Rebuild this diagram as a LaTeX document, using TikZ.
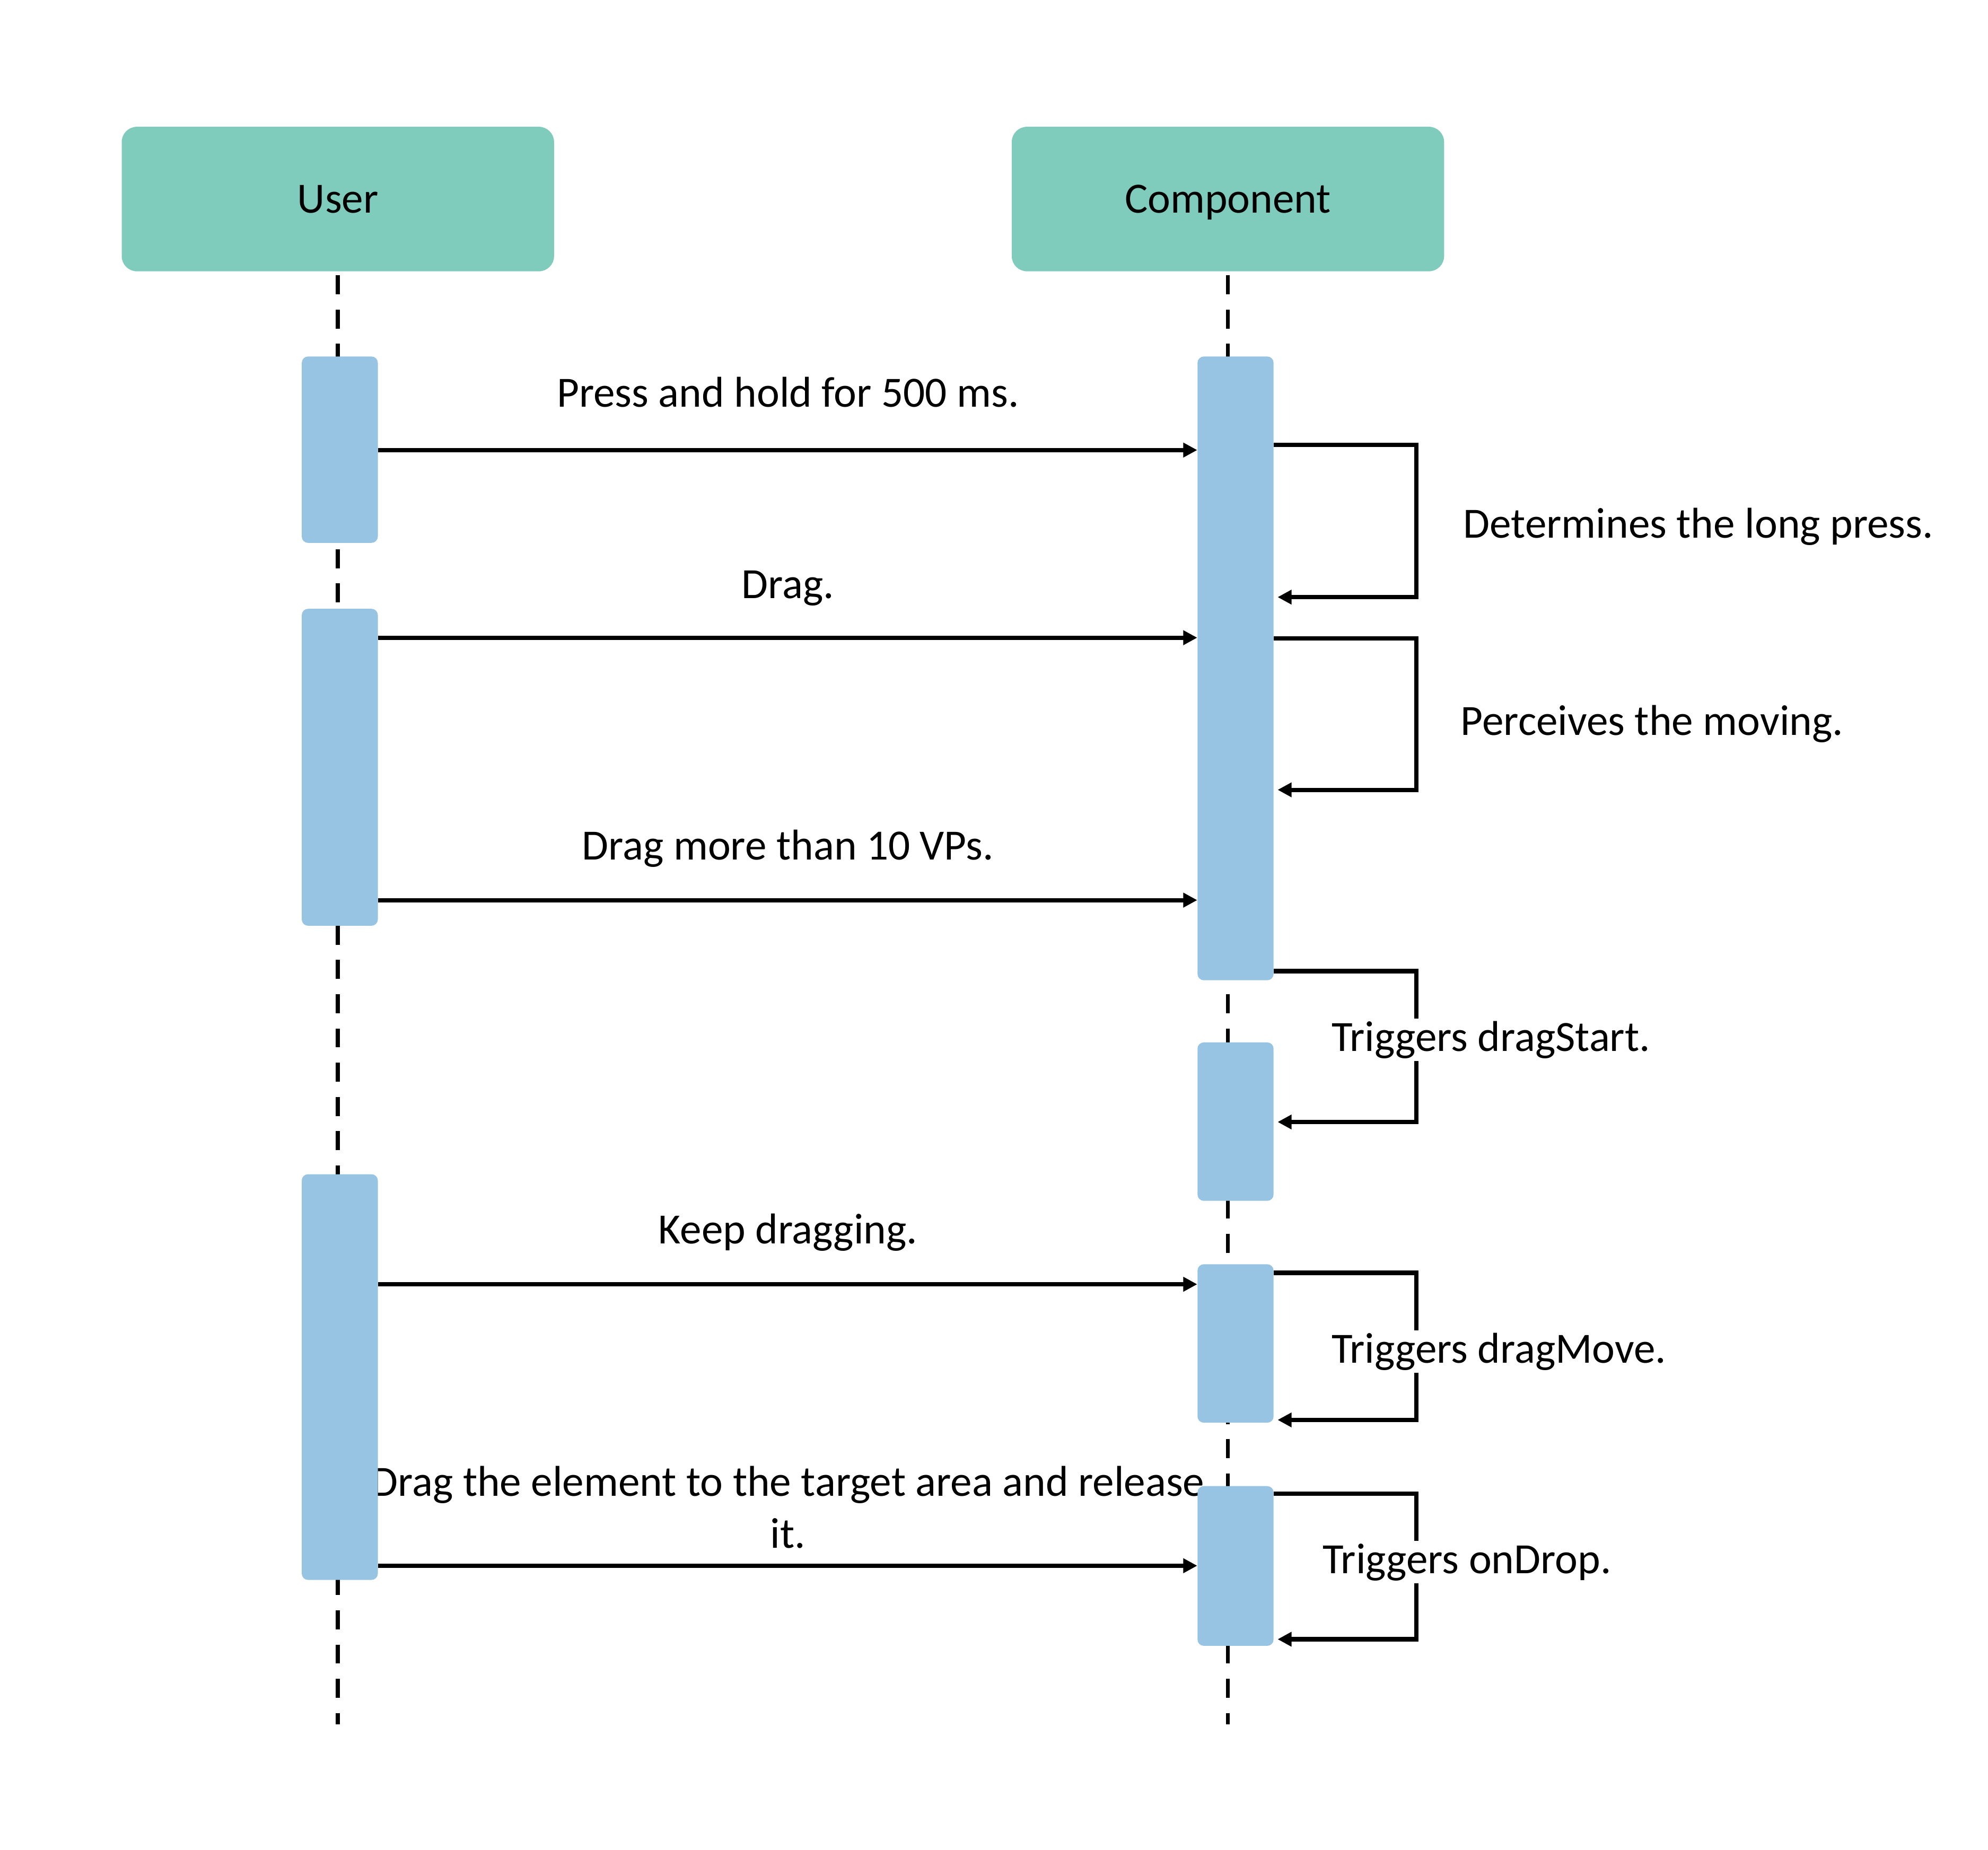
\documentclass[tikz,border=0pt]{standalone}
\usepackage{fontspec}
\setmainfont{Carlito}
\usepackage{tikz}
\usetikzlibrary{arrows.meta, positioning, calc}
\definecolor{SeqHead}{RGB}{128, 204, 188}
\definecolor{SeqBar}{RGB}{151, 196, 226}
\definecolor{SeqLine}{RGB}{0, 0, 0}

\begin{document}
\begin{tikzpicture}[x=1pt, y=-1pt,
  head/.style={fill=SeqHead, rounded corners=12pt, minimum width=341pt,
               minimum height=114pt, inner sep=0pt, text height=22pt, text depth=0pt,
               font=\fontsize{34}{41}\selectfont},
  actbar/.style={fill=SeqBar, rounded corners=5pt, minimum width=60pt,
                 inner sep=0pt, anchor=north},
  lifeline/.style={SeqLine, line width=3.2pt, dash pattern=on 15pt off 12pt},
  msg/.style={SeqLine, line width=3.4pt, -{Triangle[length=11pt, width=11pt]}},
  msgtext/.style={font=\fontsize{34}{41}\selectfont, anchor=base, align=center},
  looptext/.style={font=\fontsize{34}{41}\selectfont, anchor=base west, inner sep=2pt},
]
  \path[use as bounding box] (0,0) rectangle (1568,1459);
  \fill[white] (0,0) rectangle (1568,1459);

  % participants
  \node[head] (user) at (266.5,157) {User};
  \node[head] (comp) at (968.5,157) {Component};

  % lifelines
  \draw[lifeline] ([yshift=-3pt]user.south) -- (user.south |- 0,1360);
  \draw[lifeline] ([yshift=-3pt]comp.south) -- (comp.south |- 0,1360);

  % message texts (under the bars)
  \node[msgtext] (t1) at (621.5,321) {Press and hold for 500 ms.};
  \node[msgtext] (t2) at (621.5,472) {Drag.};
  \node[msgtext] (t3) at (621.5,678) {Drag more than 10 VPs.};
  \node[msgtext] (t4) at (621.5,981) {Keep dragging.};
  \node[msgtext] (t5) at (621.5,1221) {Drag the element to the target area and release\\it.};

  % activation bars
  \node[actbar, minimum height=147pt] (u1) at (268,281) {};
  \node[actbar, minimum height=250pt] (u2) at (268,480) {};
  \node[actbar, minimum height=320pt] (u3) at (268,926) {};
  \node[actbar, minimum height=492pt] (c1) at (974.5,281) {};
  \node[actbar, minimum height=125pt] (c2) at (974.5,822) {};
  \node[actbar, minimum height=125pt] (c3) at (974.5,997) {};
  \node[actbar, minimum height=126pt] (c4) at (974.5,1172) {};

  % user -> component
  \draw[msg] (u1.east |- 0,355) -- (c1.west |- 0,355);
  \draw[msg] (u2.east |- 0,503) -- (c1.west |- 0,503);
  \draw[msg] (u2.east |- 0,710) -- (c1.west |- 0,710);
  \draw[msg] (u3.east |- 0,1013) -- (c3.west |- 0,1013);
  \draw[msg] (u3.east |- 0,1235) -- (c4.west |- 0,1235);

  % component -> itself
  \draw[msg] (c1.east |- 0,351) -| (1117,471) -- ($(c1.east |- 0,471)+(3,0)$);
  \draw[msg] (c1.east |- 0,503.5) -| (1117,623) -- ($(c1.east |- 0,623)+(3,0)$);
  \draw[msg] (c1.east |- 0,766) -| (1117,885) -- ($(c2.east |- 0,885)+(3,0)$);
  \draw[msg] (c3.east |- 0,1004) -| (1117,1120) -- ($(c3.east |- 0,1120)+(3,0)$);
  \draw[msg] (c4.east |- 0,1178) -| (1117,1293) -- ($(c4.east |- 0,1293)+(3,0)$);

  \node[looptext] (s1) at (1152,424.5) {Determines the long press.};
  \node[looptext] (s2) at (1150,580) {Perceives the moving.};
  \node[looptext, fill=white] (s3) at (1048,829) {Triggers dragStart.};
  \node[looptext, fill=white] (s4) at (1048,1075) {Triggers dragMove.};
  \node[looptext, fill=white] (s5) at (1041,1241) {Triggers onDrop.};
\end{tikzpicture}
\end{document}
